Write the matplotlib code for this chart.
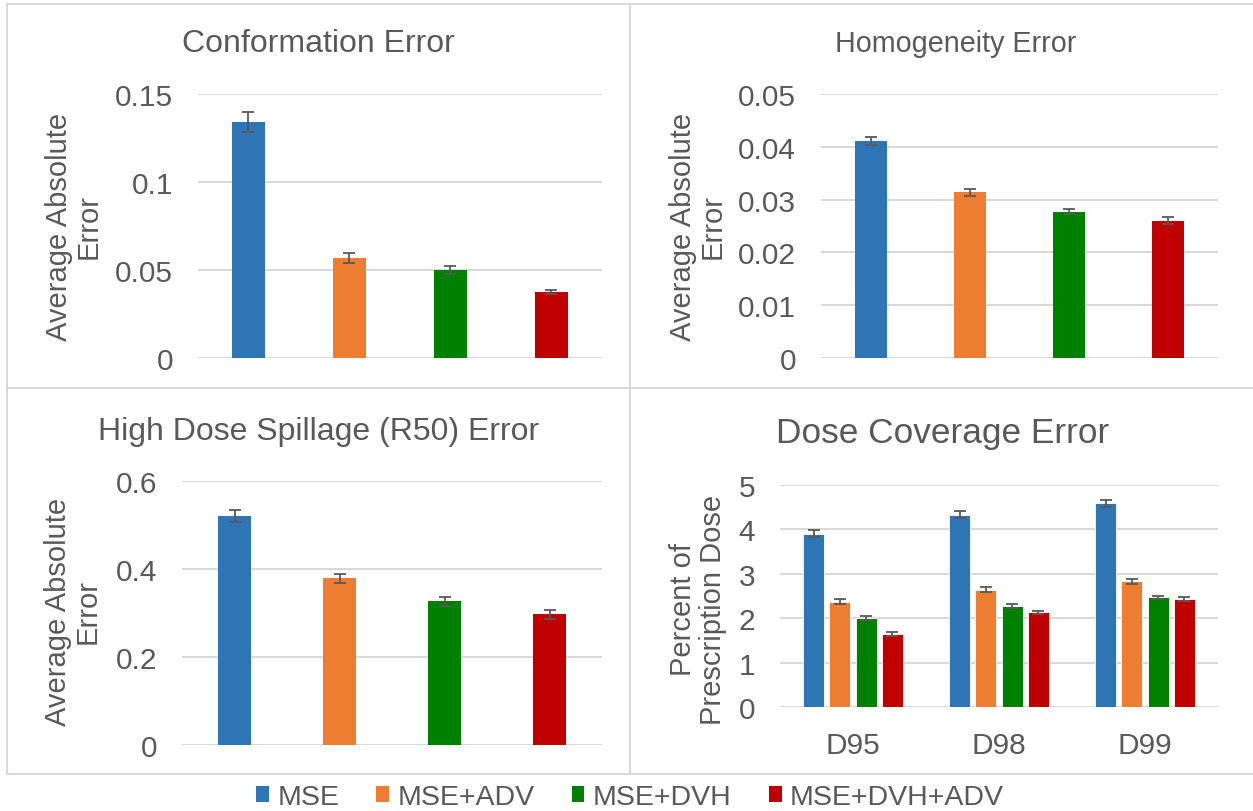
import matplotlib.pyplot as plt
from matplotlib.lines import Line2D
from matplotlib.patches import Patch
import numpy as np

plt.rcParams['font.family'] = ['Liberation Sans', 'DejaVu Sans']

methods = ['MSE', 'MSE+ADV', 'MSE+DVH', 'MSE+DVH+ADV']
colors = ['#2E75B6', '#ED7D31', '#008000', '#C00000']

conf_vals = [0.134, 0.0568, 0.050, 0.0375]
conf_err = [0.0057, 0.003, 0.002, 0.0013]

homo_vals = [0.0411, 0.0314, 0.0277, 0.0260]
homo_err = [0.0008, 0.0007, 0.0005, 0.0007]

r50_vals = [0.520, 0.379, 0.327, 0.297]
r50_err = [0.013, 0.010, 0.010, 0.010]

dose_groups = ['D95', 'D98', 'D99']
dose_vals = {
    'MSE': [3.90, 4.33, 4.59],
    'MSE+ADV': [2.37, 2.64, 2.83],
    'MSE+DVH': [2.01, 2.27, 2.47],
    'MSE+DVH+ADV': [1.64, 2.13, 2.43],
}
dose_err = {
    'MSE': [0.08, 0.075, 0.08],
    'MSE+ADV': [0.06, 0.06, 0.06],
    'MSE+DVH': [0.04, 0.04, 0.04],
    'MSE+DVH+ADV': [0.04, 0.04, 0.05],
}

W, H = 1253, 812
grey = '#595959'
grid = '#d9d9d9'

fig = plt.figure(figsize=(W / 100, H / 100), dpi=100)


def axes_px(x0, y0, x1, y1):
    return fig.add_axes([x0 / W, 1 - y1 / H, (x1 - x0) / W, (y1 - y0) / H])


def text_px(x, y, s, size, **kw):
    fig.text(x / W, 1 - y / H, s, fontsize=size, color=grey,
             ha='center', va='center', **kw)


def style(ax, ymax, step, fmt):
    ticks = np.arange(0, ymax + step / 2, step)
    ax.set_ylim(0, ymax)
    ax.set_yticks(ticks)
    ax.set_yticklabels([fmt(v) for v in ticks])
    for s in ax.spines.values():
        s.set_visible(False)
    ax.yaxis.grid(True, color=grid, linewidth=1.5)
    ax.set_axisbelow(True)
    ax.tick_params(axis='both', length=0, labelsize=21.5, colors=grey, pad=18)


def fmt_num(v):
    return ('%.2f' % v).rstrip('0').rstrip('.')


def single_panel(ax, vals, errs, ymax, step):
    x = np.arange(len(methods))
    ax.bar(x, vals, width=0.32, color=colors, zorder=2)
    ax.errorbar(x, vals, yerr=errs, fmt='none', ecolor=grey, elinewidth=1.3,
                capsize=4.5, capthick=1.3, zorder=3)
    ax.set_xlim(-0.5, len(methods) - 0.5)
    ax.set_xticks([])
    style(ax, ymax, step, fmt_num)


ax1 = axes_px(198, 95, 602, 359)
single_panel(ax1, conf_vals, conf_err, 0.15, 0.05)
text_px(318, 44, 'Conformation Error', 23)
text_px(74, 227, 'Average Absolute\nError', 21, rotation=90, linespacing=1.05)

ax2 = axes_px(821, 95, 1218, 359)
single_panel(ax2, homo_vals, homo_err, 0.05, 0.01)
text_px(956, 44, 'Homogeneity Error', 20.7)
text_px(698, 227, 'Average Absolute\nError', 21, rotation=90, linespacing=1.05)

ax3 = axes_px(182, 482, 602, 746)
single_panel(ax3, r50_vals, r50_err, 0.6, 0.2)
text_px(319, 432, 'High Dose Spillage (R50) Error', 23)
text_px(73, 612, 'Average Absolute\nError', 21, rotation=90, linespacing=1.05)

ax4 = axes_px(780, 486, 1218, 708)
xg = np.arange(len(dose_groups))
bw = 0.144
pitch = 0.18
for i, m in enumerate(methods):
    off = (i - 1.5) * pitch
    ax4.bar(xg + off, dose_vals[m], width=bw, color=colors[i],
            edgecolor='white', linewidth=0.6, zorder=2)
    ax4.errorbar(xg + off, dose_vals[m], yerr=dose_err[m], fmt='none',
                 ecolor=grey, elinewidth=1.3, capsize=4.5, capthick=1.3, zorder=3)
ax4.set_xlim(-0.5, len(dose_groups) - 0.5)
ax4.set_xticks(xg)
ax4.set_xticklabels(dose_groups)
style(ax4, 5, 1, lambda v: '%d' % v)
ax4.tick_params(axis='x', pad=17)
text_px(943, 434, 'Dose Coverage Error', 25.4)
text_px(698, 610, 'Percent of\nPrescription Dose', 21, rotation=90, linespacing=1.05)

# panel frames
frame_kw = dict(color=grid, linewidth=1.5, transform=fig.transFigure)
for (xa, ya, xb, yb) in [(7, 5, 1253, 5), (7, 5, 7, 775), (7, 775, 1253, 775),
                         (630, 5, 630, 775), (7, 389, 1253, 389)]:
    fig.add_artist(Line2D([xa / W, xb / W], [1 - ya / H, 1 - yb / H], **frame_kw))

handles = [Patch(facecolor=c, edgecolor='none') for c in colors]
fig.legend(handles, methods, loc='center', bbox_to_anchor=(630 / W, 1 - 798 / H),
           ncol=4, frameon=False, fontsize=20.5, labelcolor=grey,
           handlelength=0.45, handleheight=0.45, handletextpad=0.3,
           columnspacing=1.3, borderaxespad=0)

fig.savefig('out.png', dpi=100)
